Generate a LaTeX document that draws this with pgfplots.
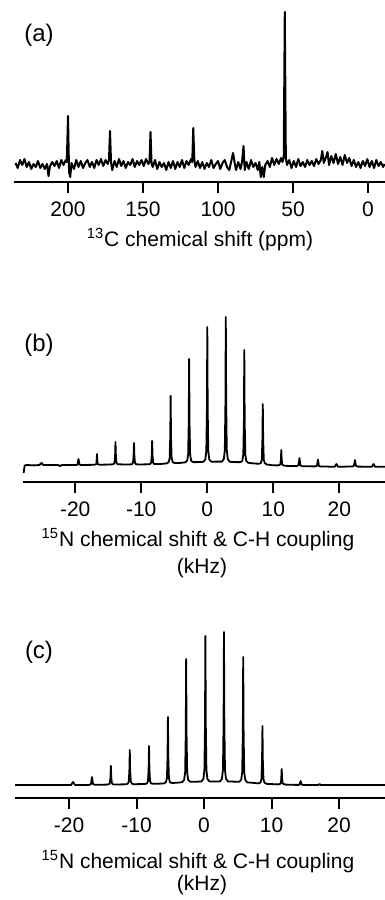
\documentclass[border=0pt]{standalone}
\usepackage{pgfplots}
\pgfplotsset{compat=1.18}
\usepackage{fontspec}
\setmainfont{Liberation Sans}
\pgfplotsset{
  spec/.style={
    scale only axis, clip=false,
    axis x line*=bottom, axis y line=none,
    ymin=0, ymax=172,
    height=86pt,
    tick align=outside, major tick length=5.5pt,
    x axis line style={line width=1pt},
    every tick/.style={line width=1pt, black},
    xtick pos=bottom,
    ticklabel style={font=\fontsize{10.5}{12}\selectfont},
    xticklabel style={yshift=-1pt},
  },
  trace/.style={black, line width=1pt, line join=round, mark=none},
}
\begin{document}
\begin{tikzpicture}
\useasboundingbox (0,0) rectangle (192.5pt,-450pt);
% ---------------- (a)
\begin{axis}[spec, at={(7pt,-91pt)}, anchor=south west, width=185.5pt,
  xmin=-11.3, xmax=236, x dir=reverse,
  xtick={0,50,100,150,200}, xticklabels={0,50,100,150,200}]
\addplot[trace] coordinates {
(235,19)(233.5,14)(232,22)(230.5,17)(229,23)(227.5,15)(226,20)(224.5,13)(223,18)(221.5,15)
(220,21)(218.5,14)(217,18)(215.5,13)(214,18)(213,6)(212,16)(210.5,20)(209,16)(207.5,21)
(206,14)(204.5,22)(203,17)(201.5,22)(200.8,20)(200,66)(199.3,10)(198.5,5)(197.7,19)
(196,13)(194.5,22)(193,15)(191.5,21)(190,14)(188.5,19)(187,22)(185.5,15)(184,20)(182.5,14)
(181,22)(179.5,17)(178,23)(176.5,16)(175,22)(173.5,18)(172.7,22)(172,51)(171.3,19)
(170.5,12)(169,21)(167.5,15)(166,23)(164.5,16)(163,21)(161.5,14)(160,20)(158.5,17)(157,23)
(155.5,15)(154,21)(152.5,17)(151,22)(149.5,16)(148,23)(146.5,18)(145.7,20)(145,50)(144.3,18)
(143.5,15)(142,22)(140.5,13)(139,20)(137.5,15)(136,19)(134.5,12)(133,20)(131.5,14)(130,21)
(128.5,13)(127,20)(125.5,15)(124,22)(122.5,14)(121,21)(119.5,17)(118,23)
(117.2,20)(116.5,54)(115.8,22)(115,15)
(113.5,21)(112,14)(110.5,20)(109,13)(107.5,19)(106,15)(104.5,22)(103,14)(101.5,18)(100,21)
(98.5,13)(97,19)(95.5,22)(94,15)(92.5,12)(91,22)(90,29)(89,20)(88,12)(86.5,20)(85,13)(84,20)
(83,36)(82.2,12)
(81,20)(79.5,13)(78,22)(76.5,15)(75,19)(73.5,12)(72.5,20)(71.5,5)(70.5,15)(69.5,5)
(68.5,17)(67,21)(65.5,15)(64,24)(62.5,17)(61,23)(59.5,18)(58,24)(57,20)(56.2,25)
(55.5,170)(54.8,24)(54,17)
(52.5,22)(51,14)(49.5,21)(48,15)(46.5,23)(45,16)(43.5,20)(42,15)(40.5,22)(39,17)
(37.5,21)(36,16)(34.5,23)(33,18)(31.5,22)(30.5,31)(29.5,19)(28,25)(27,30)(26,17)
(24.5,26)(23,19)(21.5,28)(20,18)(18.5,25)(17,17)(15.5,27)(14,19)(12.5,24)(11,16)
(9.5,22)(8,15)(6.5,20)(5,14)(3.5,21)(2,16)(0.5,23)(-1,15)(-2.5,21)(-4,14)
(-5.5,22)(-7,16)(-8.5,20)(-10,15)(-11,18)
};
\end{axis}
% ---------------- (b)
\begin{axis}[spec, at={(11.5pt,-241pt)}, anchor=south west, width=181pt,
  xmin=-27.9, xmax=26.9,
  xtick={-20,-10,0,10,20}, xticklabels={-20,-10,0,10,20}]
\addplot[trace, line width=0.9pt] coordinates {
(-27.8,9)(-27.65,16.5)(-27.3,17)(-26.2,16.6)(-25.4,17)(-25.1,19)(-24.8,17)
(-22.6,17)(-22.3,16)(-22.0,17)
(-19.8,17)(-19.65,17.6)(-19.5,23)(-19.35,17.6)(-19.2,17)(-18.1,17.1)
(-17.2,17.2)(-16.9,17.5)(-16.78,18.5)(-16.7,28)(-16.62,18.5)(-16.5,17.5)(-16.2,17.3)(-15.3,17.4)
(-14.5,17.6)(-14.2,17.9)(-14.05,19.3)(-13.96,26.2)(-13.9,40)(-13.84,26.2)(-13.75,19.3)(-13.6,17.9)(-13.3,17.7)
(-12.5,17.5)
(-11.7,17.6)(-11.4,17.9)(-11.25,19.2)(-11.16,25.8)(-11.1,39)(-11.04,25.8)(-10.95,19.2)(-10.8,17.9)(-10.5,17.6)
(-9.7,17.6)
(-8.95,17.7)(-8.65,18)(-8.5,19.4)(-8.41,26.6)(-8.35,41)(-8.29,26.6)(-8.2,19.4)(-8.05,18)(-7.75,17.9)
(-6.95,18.1)
(-6.15,18.6)(-5.85,19.8)(-5.7,23.9)(-5.61,44.6)(-5.55,86)(-5.49,44.6)(-5.4,23.9)(-5.25,19.8)(-4.95,19)
(-4.15,19.1)
(-3.35,19.6)(-3.05,21.2)(-2.9,27.6)(-2.81,59.4)(-2.75,123)(-2.69,59.4)(-2.6,27.6)(-2.45,21.2)(-2.15,19.9)
(-1.375,19.9)
(-0.6,20.2)(-0.3,22.5)(-0.15,30.8)(-0.06,72.2)(0,155)(0.06,72.2)(0.15,30.8)(0.3,22.5)(0.6,20.3)
(1.4,20.4)
(2.2,20.4)(2.5,22.9)(2.65,31.8)(2.74,76.2)(2.8,165)(2.86,76.2)(2.95,31.8)(3.1,22.9)(3.4,20.2)
(4.2,19.9)
(5.0,19.9)(5.3,21.1)(5.45,27.5)(5.54,61)(5.6,132)(5.66,61)(5.75,27.5)(5.9,21.1)(6.2,19.2)
(7.0,18.6)
(7.8,18.2)(8.1,18.9)(8.25,22.2)(8.34,41.8)(8.4,78)(8.46,41.8)(8.55,22.2)(8.7,18.9)(9.0,17.5)
(9.8,16.8)
(10.6,16.6)(10.9,16.9)(11.05,17.6)(11.14,22.4)(11.2,32)(11.26,22.4)(11.35,17.6)(11.5,16.6)(11.8,16.2)
(12.6,16)
(13.5,16)(13.8,16.7)(13.95,24)(14.1,16.5)(14.4,15.8)
(16.3,15.6)(16.6,16.2)(16.75,22.5)(16.9,16)(17.2,15.4)
(18.0,15.6)(18.6,15.2)
(19.3,15.4)(19.55,18)(19.8,15.2)(21,15.4)
(22.0,15.6)(22.2,16.4)(22.35,22)(22.5,16.2)(22.8,15.4)(24,15.3)
(24.9,15.2)(25.15,18)(25.4,15.3)(26.9,15.2)
};
\end{axis}
% ---------------- (c)
\begin{axis}[spec, at={(7.5pt,-399pt)}, anchor=south west, width=185pt,
  xmin=-28.0, xmax=26.8,
  xtick={-20,-10,0,10,20}, xticklabels={-20,-10,0,10,20}]
\addplot[trace, line width=0.9pt] coordinates {
(-28,13)(-19.7,13)(-19.4,16)(-19.1,13)(-18.0,13.1)
(-17.0,13.1)(-16.75,14)(-16.6,21)(-16.45,14)(-16.2,13.2)(-15.2,13.3)
(-14.4,13.4)(-14.1,13.8)(-13.95,14.9)(-13.86,20.6)(-13.8,32)(-13.74,20.6)(-13.65,14.9)(-13.5,13.8)(-13.2,13.4)
(-12.4,13.6)
(-11.6,13.7)(-11.3,14.4)(-11.15,16.5)(-11.06,27)(-11.0,48)(-10.94,27)(-10.85,16.5)(-10.7,14.4)(-10.4,13.8)
(-9.6,13.9)
(-8.75,14)(-8.45,14.6)(-8.3,16.9)(-8.21,28.6)(-8.15,52)(-8.09,28.6)(-8.0,16.9)(-7.85,14.6)(-7.55,14.2)
(-6.75,14.3)
(-5.95,14.6)(-5.65,15.7)(-5.5,19.8)(-5.41,40.2)(-5.35,81)(-5.29,40.2)(-5.2,19.8)(-5.05,15.7)(-4.75,15)
(-4.0,15.3)
(-3.25,15.8)(-2.95,18)(-2.8,25.6)(-2.71,63.4)(-2.65,139)(-2.59,63.4)(-2.5,25.6)(-2.35,18)(-2.05,16.2)
(-1.2,16.3)
(-0.4,16.5)(-0.1,19)(0.05,27.9)(0.14,72.6)(0.2,162)(0.26,72.6)(0.35,27.9)(0.5,19)(0.8,16.6)
(1.575,16.6)
(2.35,16.6)(2.65,19.1)(2.8,28.3)(2.89,74.2)(2.95,166)(3.01,74.2)(3.1,28.3)(3.25,19.1)(3.55,16.5)
(4.375,16.4)
(5.2,16.2)(5.5,18.1)(5.65,25.8)(5.74,64.2)(5.8,141)(5.86,64.2)(5.95,25.8)(6.1,18.1)(6.4,15.6)
(7.2,15.2)
(8.05,14.6)(8.35,15.4)(8.5,18.9)(8.59,36.6)(8.65,72)(8.71,36.6)(8.8,18.9)(8.95,15.4)(9.25,14.2)
(10.1,13.9)
(10.9,13.6)(11.2,13.9)(11.35,14.6)(11.44,19.4)(11.5,29)(11.56,19.4)(11.65,14.6)(11.8,13.9)(12.1,13.4)
(12.9,13.2)
(14.0,13.1)(14.15,13.6)(14.3,17)(14.45,13.6)(14.6,13.1)(15.7,13)
(16.9,13)(17.1,14)(17.3,13)(26.8,13)
};
\end{axis}
% ---------------- labels
\begin{scope}[every node/.style={font=\fontsize{10.5}{12}\selectfont, inner sep=0pt}]
\node at (100pt,-120pt) {\textsuperscript{13}C chemical shift (ppm)};
\node at (99pt,-270pt) {\textsuperscript{15}N chemical shift \& C-H coupling};
\node at (101pt,-284pt) {(kHz)};
\node at (99pt,-431pt) {\textsuperscript{15}N chemical shift \& C-H coupling};
\node at (101pt,-442.5pt) {(kHz)};
\end{scope}
\begin{scope}[every node/.style={font=\fontsize{12}{14}\selectfont, inner sep=0pt}]
\node at (19.5pt,-17.5pt) {(a)};
\node at (19.5pt,-172.5pt) {(b)};
\node at (19.5pt,-326pt) {(c)};
\end{scope}
\end{tikzpicture}
\end{document}
